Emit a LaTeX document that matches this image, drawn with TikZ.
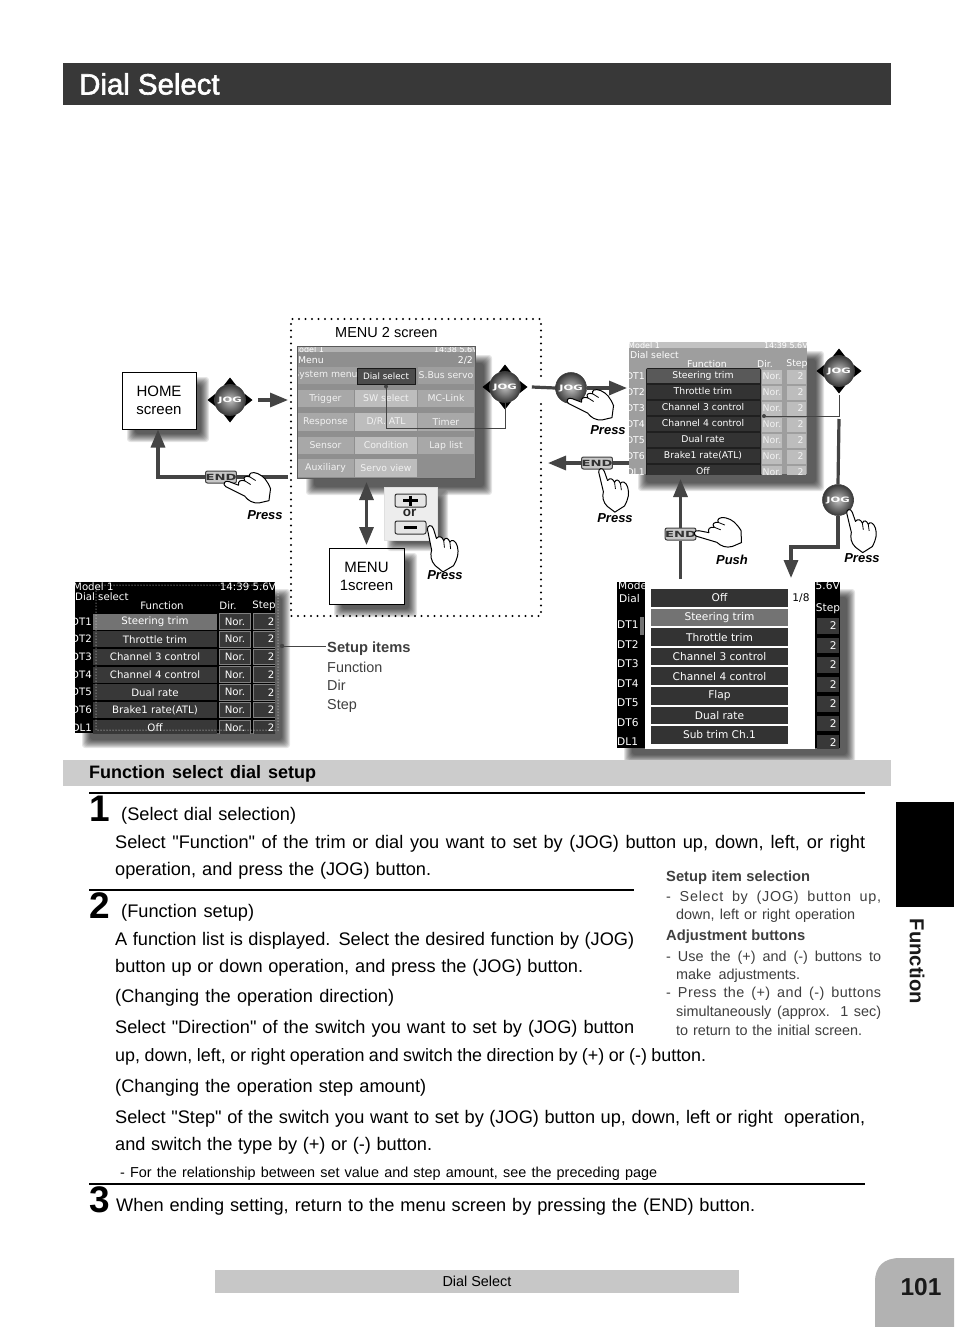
\documentclass[tikz,border=0pt]{standalone}
\usepackage{fontspec}
\usetikzlibrary{arrows.meta,shadings,calc}
\setmainfont{Liberation Sans}[Ligatures=TeXOff]
\newfontfamily\titlefont[RawFeature={embolden=2}]{Liberation Sans}
\newfontfamily\scrfont{DejaVu Sans}
\newcommand{\fsz}[1]{\fontsize{#1}{#1}\selectfont}
\definecolor{ink}{HTML}{444444}
\definecolor{side}{HTML}{3F3F3F}
\newcommand{\softshadow}[5]{%
  \foreach \ss in {0,...,8}{%
    \fill[black,opacity=.1,rounded corners=3pt] ({#1+#5-4+\ss},{#2+#5-4+\ss}) rectangle ({#3+#5+4-\ss},{#4+#5+4-\ss});}}
\newcommand{\lline}[5]{\node[txt] (#1) at (#2,#3) {\makebox[#4pt][s]{#5}};}
\newcommand{\sline}[5]{\node[txt,text=side,font=\fsz{14.4}] (#1) at (#2,#3) {\makebox[#4pt][s]{#5}};}
\newcommand{\sbold}[5]{\node[txt,text=side,font=\fsz{14.7}\bfseries] (#1) at (#2,#3) {\makebox[#4pt][s]{#5}};}
\newcommand{\jogarrows}[1]{%
  \foreach \aa in {0,90,180,270}{%
    \fill[black] ($(#1)+(\aa:22.5)$) -- ($(#1)+(\aa:14.5)+(\aa+90:6.3)$) -- ($(#1)+(\aa:14.5)+(\aa-90:6.3)$) -- cycle;}}
\newcommand{\widelab}[1]{\scalebox{1.55}[1]{#1}}
\tikzset{
  txt/.style={inner sep=0,anchor=base west,font=\fsz{18.2}},
  conn/.style={draw=ink,line width=3.2pt},
  arr/.style={conn,-{Triangle[length=18pt,width=14pt]}},
  darr/.style={conn,{Triangle[length=18pt,width=14pt]}-{Triangle[length=18pt,width=14pt]}},
  thin conn/.style={draw=ink,line width=1pt},
  jogball/.style={circle,minimum size=31pt,inner sep=0,inner color=black!25,outer color=black!78,draw=black!75,line width=.6pt,text=white,font=\scrfont\bfseries\fsz{7.4}},
  endkey/.style={rectangle,rounded corners=2pt,minimum width=30pt,minimum height=12pt,inner sep=0,fill=black!22,draw=black!75,line width=1pt,text=black!80,font=\scrfont\bfseries\fsz{8.5}},
  scrbox/.style={rectangle,draw=black,line width=1pt,fill=white,inner sep=0,align=center,font=\fsz{15}},
  presslab/.style={inner sep=0,font=\fsz{13}\bfseries\itshape},
  s/.style={inner sep=0,font=\scrfont\fsz{9.3},text=white},
  sb/.style={inner sep=0,font=\scrfont\fsz{10.2},text=white},
  sf/.style={inner sep=0,font=\scrfont\fsz{10.6},text=white},
  dotpath/.style={line width=2.4pt,line cap=round,dash pattern=on 0pt off 6.5pt},
  hand/.pic={
    \path[fill=white,draw=black,line width=1pt,line join=round]
      (-3,4) .. controls (-3,0) and (2,-1) .. (3,4)
      -- (5,14) .. controls (8,11) and (11,13) .. (12,17)
      .. controls (14,13) and (17,15) .. (18,19)
      .. controls (20,16) and (24,18) .. (25,24)
      .. controls (26,31) and (24,36) .. (19,43)
      -- (8,48) -- (1,41) .. controls (-3,36) and (-3,30) .. (-1,25) -- cycle;
    \draw[line width=.8pt] (12,17) -- (12,24) (18,19) -- (18,26);
  },
}
\begin{document}
\begin{tikzpicture}[x=1pt,y=-1pt]
\useasboundingbox (0,0) rectangle (954,1327);
\fill[white] (0,0) rectangle (954,1327);

% title band
\fill[black!78] (63,63) rectangle (891,105);
\node[txt,text=white,font=\titlefont\fsz{29.4}] (title) at (79,94.5) {Dial Select};

% ---- MENU 2 dotted frame
\coordinate (fr1) at (291,319);
\coordinate (fr2) at (541,616);
\draw[dotpath] (541,376) -- (541,319) -- (291,319) -- (291,616) -- (541,616) -- (541,398);
\node[inner sep=0,anchor=base west,font=\fsz{14.5}] (menu2lab) at (335,337) {MENU 2 screen};

% ---- menu screen
\softshadow{297}{346}{475}{478}{13}
\fill[black!44] (297,346) rectangle (475,478);
\begin{scope}
\clip (297,346) rectangle (475,478);
\fill[black!30] (297,346) rectangle (475,352);
\node[s,anchor=west,text=white,font=\scrfont\fsz{8}] (m0) at (292,350) {Model 1};
\node[s,anchor=east,text=white,font=\scrfont\fsz{8}] (m00) at (478,350) {14:38 5.6V};
\node[s,anchor=west] (m1) at (298,360) {Menu};
\node[s,anchor=east] (m2) at (473,360) {2/2};
\foreach \nm/\cx/\cy/\cw/\cs [count=\mi] in {%
 System menu/325.5/375.5/57/38, S.Bus servo/446/375.5/56/38,
 Trigger/325.5/398.5/57/34, SW select/386/398.5/62/26, MC-Link/446/398.5/56/34,
 Response/325.5/422/57/34, {D/R. ATL}/386/422/62/26, Timer/446/422/56/34,
 Sensor/325.5/445.5/57/34, Condition/386/445.5/62/26, Lap list/446/445.5/56/34,
 Auxiliary/325.5/468/57/34, Servo view/386/468/62/26}{%
  \node[s,minimum width=\cw pt,minimum height=17.5pt,fill=black!\cs,text=black!5] (mc\mi) at (\cx,\cy) {\nm};}
\end{scope}
\draw[black!65,line width=1pt] (297,346) rectangle (475,478);
\node[s,font=\scrfont\fsz{8.8},draw=black!90,line width=1pt,fill=black!70,minimum width=58pt,minimum height=16pt] (dialsel) at (386,376) {Dial select};

% ---- right upper screen
\softshadow{629}{342}{807}{474}{13}
\fill[black!38] (629,342) rectangle (807,474);
\begin{scope}
\clip (629,342) rectangle (807,474);
\fill[black!24] (629,342) rectangle (807,348);
\node[s,anchor=west,font=\scrfont\fsz{8}] (d0) at (628,346) {Model 1};
\node[s,anchor=east,font=\scrfont\fsz{8}] (d00) at (808,346) {14:39 5.6V};
\node[s,anchor=west] (d1) at (630,355) {Dial select};
\node[s] (d2) at (707,364) {Function};
\node[s] (d3) at (765,364) {Dir.};
\node[s] (d4) at (797,364) {Step};
\foreach \lab [count=\i from 0] in {DT1,DT2,DT3,DT4,DT5,DT6,DL1}{%
  \node[s,anchor=east] (dlab\i) at (645,{376+\i*16}) {\lab};
  \node[s,minimum width=20pt,minimum height=14pt,fill=black!26,text=black!5] (dnor\i) at (772,{376.5+\i*16}) {Nor.};
  \node[s,minimum width=19pt,minimum height=14pt,fill=black!26,text=black!5] (dst\i) at (796.5,{376.5+\i*16}) {\hspace*{8pt}2};}
\fill[black!88,rounded corners=2pt] (646,368) rectangle (761,480);
\foreach \lab/\sh [count=\i from 0] in {Steering trim/65,Throttle trim/80,Channel 3 control/80,Channel 4 control/80,Dual rate/80,Brake1 rate(ATL)/80,Off/80}{%
  \node[s,minimum width=113pt,minimum height=14pt,fill=black!\sh] (dfn\i) at (703,{375.5+\i*16}) {\lab};}
\end{scope}

% ---- setup screen lower left
\softshadow{75}{582}{275}{733}{11}
\fill[black] (75,582) rectangle (275,733);
\begin{scope}
\clip (75,582) rectangle (275,733);
\node[sb,anchor=west] (s0) at (73,587) {Model 1};
\node[sb,anchor=east] (s00) at (276,587) {14:39 5.6V};
\node[sb,anchor=west] (s1) at (75,597) {Dial select};
\node[sb] (s2) at (162,606) {Function};
\node[sb] (s3) at (228,606) {Dir.};
\node[sb] (s4) at (264,606) {Step};
\foreach \lab/\fnm/\sh [count=\i from 0] in {DT1/Steering trim/55,DT2/Throttle trim/78,DT3/Channel 3 control/78,DT4/Channel 4 control/78,DT5/Dual rate/78,DT6/Brake1 rate(ATL)/78,DL1/Off/78}{%
  \node[sb,anchor=east] (slab\i) at (92,{621.5+\i*17.7}) {\lab};
  \node[sb,minimum width=124pt,minimum height=16pt,fill=black!\sh] (sfn\i) at (155,{621.5+\i*17.7}) {\fnm};
  \node[sb,minimum width=31pt,minimum height=15.5pt,fill=black!78,draw=black!50,line width=.8pt] (snor\i) at (235,{621.5+\i*17.7}) {Nor.};
  \node[sb,minimum width=24pt,minimum height=15.5pt,fill=black!78,draw=black!50,line width=.8pt] (sst\i) at (265,{621.5+\i*17.7}) {\hspace*{12pt}2};}
\end{scope}
\draw[white,line width=1pt,line cap=round,dash pattern=on 0pt off 3pt] (96,585) -- (278,585) -- (278,730) -- (96,730) -- cycle;

% setup items leader
\node[txt,text=side,font=\fsz{14.7}\bfseries] (setupt) at (327,652) {Setup items};
\node[txt,text=side,font=\fsz{14.4}] (setup1) at (327,672) {Function};
\node[txt,text=side,font=\fsz{14.4}] (setup2) at (327,690) {Dir};
\node[txt,text=side,font=\fsz{14.4}] (setup3) at (327,709) {Step};
\coordinate (leadA) at (282,646);
\coordinate (leadB) at (326,646);
\fill[ink] (leadA) circle (2.2);
\draw[thin conn] (leadA) -- (leadB);

% ---- function list screen
\softshadow{617}{582}{840}{748}{11}
\fill[black] (617,582) rectangle (840,748);
\begin{scope}
\clip (617,582) rectangle (840,748);
\node[sf,anchor=west] (f0) at (618,586) {Model 1};
\node[sf,anchor=east] (f00) at (840,586) {14:39 5.6V};
\node[sf,anchor=west] (f1) at (619,599) {Dial};
\node[sf] (f2) at (828,609) {Step};
\foreach \lab [count=\i from 0] in {DT1,DT2,DT3,DT4,DT5,DT6,DL1}{%
  \node[sf,anchor=west] (flab\i) at (617,{625+\i*19.5}) {\lab};
  \node[sf,anchor=east,fill=black!78,minimum width=22pt,minimum height=15.5pt] (fst\i) at (839,{626+\i*19.5}) {\hspace*{11pt}2};}
\fill[black!55] (640,617) rectangle (644,635);
\fill[white] (645,580) rectangle (815,750);
\node[sf,text=black] (f18) at (801,598) {1/8};
\foreach \lab/\sh [count=\i from 0] in {Off/80,Steering trim/55,Throttle trim/80,Channel 3 control/80,Channel 4 control/80,Flap/80,Dual rate/80,Sub trim Ch.1/80}{%
  \node[sf,minimum width=137pt,minimum height=17.5pt,fill=black!\sh] (ffn\i) at (719.5,{598+\i*19.55}) {\lab};}
\end{scope}

% ---- boxes
\softshadow{122}{372}{196}{429}{9}
\node[scrbox,minimum width=74pt,minimum height=57pt] (home) at (159,400.5) {HOME\\[3pt]screen};
\softshadow{329}{548}{404}{604}{9}
\node[scrbox,minimum width=75pt,minimum height=56pt] (menu1) at (366.5,576) {MENU\\[3pt]1screen};

% ---- +/- panel
\softshadow{384}{487}{437}{540}{7}
\fill[black!7,draw=black!12,line width=.6pt] (384,487) rectangle (437,540);
\node[minimum width=31pt,minimum height=13pt,inner sep=0,draw=black!80,rounded corners=2pt,fill=black!10,line width=1pt] (plus) at (410.5,500.5) {};
\draw[line width=2.4pt] (403,500.5) -- (418,500.5) (410.5,495.5) -- (410.5,505.5);
\node[minimum width=31pt,minimum height=13pt,inner sep=0,draw=black!80,rounded corners=2pt,fill=black!10,line width=1pt] (minus) at (410.5,527.5) {};
\draw[line width=2.4pt] (404,527.5) -- (417,527.5);
\node[inner sep=0,font=\fsz{13.5}\bfseries,text=black!85] (orlab) at (409.5,513) {or};

% ---- JOG + END nodes
\coordinate (jc1) at (230,400);
\coordinate (jc2) at (505,387);
\coordinate (jc4) at (839,371);
\jogarrows{jc1}
\jogarrows{jc2}
\jogarrows{jc4}
\node[jogball] (jog1) at (jc1) {\widelab{JOG}};
\node[jogball] (jog2) at (jc2) {\widelab{JOG}};
\node[jogball] (jog3) at (571,388) {\widelab{JOG}};
\node[jogball] (jog4) at (jc4) {\widelab{JOG}};
\node[jogball] (jog5) at (838,500) {\widelab{JOG}};
\node[endkey] (end1) at (221,477) {\widelab{END}};
\node[endkey] (end2) at (597,463) {\widelab{END}};
\node[endkey] (end3) at (680.5,534) {\widelab{END}};

% ---- connectors
\coordinate (a1) at (258,400); \coordinate (a2) at (288,400);
\draw[arr] (a1) -- (a2);
\coordinate (b1) at (288,477);
\draw[conn] (b1) -- (end1.east);
\coordinate (b2) at (158,477);
\draw[arr] (end1.west) -- (b2) -- (home.south -| b2);
\coordinate (c1) at (366.5,482); \coordinate (c2) at (366.5,545);
\draw[darr] (c1) -- (c2);
\draw[conn] (jog2.east) ++(11,0) -- (jog3.west);
\coordinate (d1) at (627,388);
\draw[arr] (jog3.east) -- (d1);
\coordinate (e1) at (629,463); \coordinate (e2) at (548,463);
\draw[conn] (e1) -- (end2.east);
\draw[arr] (end2.west) -- (e2);
\coordinate (f1) at (680.5,579); \coordinate (f2) at (680.5,479);
\draw[conn] (f1) -- (end3.south);
\draw[arr] (end3.north) -- (f2);
\coordinate (g1) at (839,419);
\draw[conn] (jog5.north) -- (g1);
\coordinate (h1) at (791,547); \coordinate (h2) at (791,578);
\draw[arr] (jog5.south) -- (jog5.south |- h1) -- (h1) -- (h2);
% thin pointers
\coordinate (p1) at (505,428);
\fill[ink] ($(dialsel.south)+(0,2)$) circle (2);
\draw[thin conn] ($(dialsel.south)+(0,2)$) -- (dialsel.south |- p1) -- (p1) -- (jog2.south);
\coordinate (q1) at (839,416); \coordinate (q2) at (764,416);
\fill[ink] (q2) circle (2);
\draw[thin conn] (jog4.south) ++(0,8) -- (q1) -- (q2);

% ---- hands
\pic[rotate=58] at (224,482) {hand};
\pic[rotate=58] at (567,399) {hand};
\pic[rotate=8,scale=.95] at (601,468) {hand};
\pic[rotate=68] at (694,532) {hand};
\pic[rotate=8,scale=.94] at (849,509) {hand};
\pic[rotate=6] at (430,525) {hand};

\node[presslab] (pr1) at (265,515.5) {Press};
\node[presslab] (pr2) at (445,575.5) {Press};
\node[presslab] (pr3) at (608,430.5) {Press};
\node[presslab] (pr4) at (615,518.5) {Press};
\node[presslab] (pr5) at (732,559.5) {Push};
\node[presslab] (pr6) at (862,558.5) {Press};

% ---- section band
\fill[black!20] (63,760) rectangle (891,786);
\node[txt,font=\fsz{18}\bfseries] (band) at (89,778) {\makebox[227pt][s]{Function select dial setup}};

% rules
\draw[line width=1.6pt] (89,793) -- (865,793);
\draw[line width=2pt] (89,889.5) -- (634,889.5);
\draw[line width=1.6pt] (89,1184) -- (865,1184);

% step numerals
\node[txt,font=\fsz{37}\bfseries] (n1) at (89,821) {1};
\node[txt,font=\fsz{37}\bfseries] (n2) at (89,918) {2};
\node[txt,font=\fsz{37}\bfseries] (n3) at (89,1212) {3};

% body
\lline{t1}{121}{820}{175}{(Select dial selection)}
\lline{t2}{115}{848}{750}{Select "Function" of the trim or dial you want to set by (JOG) button up, down, left, or right}
\lline{t3}{115}{875}{316}{operation, and press the (JOG) button.}
\lline{t4}{121}{917}{133}{(Function setup)}
\lline{t5}{115}{945}{519}{A function list is displayed. Select the desired function by (JOG)}
\lline{t6}{115}{972}{468}{button up or down operation, and press the (JOG) button.}
\lline{t7}{115}{1002}{279}{(Changing the operation direction)}
\lline{t8}{115}{1033}{519}{Select "Direction" of the switch you want to set by (JOG) button}
\node[txt,font=\fsz{17.9}] (t9) at (115,1061) {\makebox[591pt][s]{up, down, left, or right operation and switch the direction by (+) or (-) button.}};
\lline{t10}{115}{1092}{311}{(Changing the operation step amount)}
\lline{t11}{115}{1123}{750}{Select "Step" of the switch you want to set by (JOG) button up, down, left or right \ operation,}
\lline{t12}{115}{1150}{317}{and switch the type by (+) or (-) button.}
\node[txt,font=\fsz{14.4}] (t13) at (120,1177) {\makebox[537pt][s]{- For the relationship between set value and step amount, see the preceding page}};
\lline{t14}{116}{1211}{639}{When ending setting, return to the menu screen by pressing the (END) button.}

% sidebar notes
\sbold{u1}{666}{881}{144}{Setup item selection}
\sline{u2}{666}{901}{215}{\addfontfeature{LetterSpace=5}- Select by (JOG) button up,}
\sline{u3}{676}{919}{179}{down, left or right operation}
\sbold{u4}{666}{940}{139}{Adjustment buttons}
\sline{u5}{666}{961}{215}{- Use the (+) and (-) buttons to}
\sline{u6}{676}{979}{124}{make adjustments.}
\sline{u7}{666}{997}{215}{\addfontfeature{LetterSpace=3}- Press the (+) and (-) buttons}
\sline{u8}{676}{1016}{205}{simultaneously (approx. 1 sec)}
\sline{u9}{676}{1035}{186}{to return to the initial screen.}

% function tab
\fill[black] (896,802) rectangle (954,907);
\node[inner sep=0,rotate=-90,font=\fsz{20.2}\bfseries,text=black!90] (functab) at (917,961.5) {Function};

% footer
\fill[black!22] (215,1270) rectangle (739,1293);
\node[inner sep=0,font=\fsz{14.4}] (footer) at (477,1281) {Dial Select};
\fill[black!30] (875,1327) -- (875,1282) .. controls (875,1266) and (884,1258) .. (900,1258) -- (954,1258) -- (954,1327) -- cycle;
\node[inner sep=0,font=\fsz{24.5}\bfseries,text=black!90] (pageno) at (921,1287) {101};
\end{tikzpicture}
\end{document}
